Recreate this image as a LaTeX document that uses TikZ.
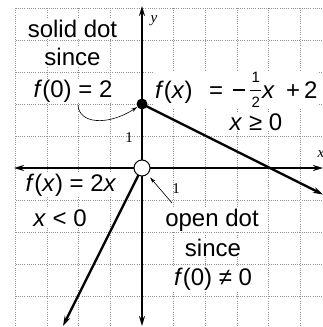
\documentclass[tikz,border=0pt]{standalone}
\usepackage{fontspec}
\setmainfont{Liberation Sans}
\newfontfamily\serifx{Liberation Serif}
\usetikzlibrary{arrows.meta}
\newcommand{\halfsmall}{{\fontsize{15}{15}\selectfont\makebox[11pt]{\rlap{\raisebox{15.5pt}{\makebox[11pt]{1}}}\rlap{\raisebox{7.6pt}{\rule{11pt}{0.8pt}}}\raisebox{-9.5pt}{\makebox[11pt]{2}}}}}
\newcommand{\minusbar}{\makebox[19pt][l]{\hspace{2pt}\raisebox{7.3pt}{\rule{12pt}{1.3pt}}}}
\begin{document}
\begin{tikzpicture}[x=1pt,y=-1pt,
  gridline/.style={gray!85, line width=0.6pt, dash pattern=on 1pt off 1.2pt},
  axis/.style={line width=2.4pt, {Stealth[length=10pt,width=6pt]}-{Stealth[length=10pt,width=6pt]}},
  graphline/.style={line width=2.4pt},
  tipline/.style={graphline, -{Stealth[length=10pt,width=6pt]}},
  lbl/.style={fill=white, inner sep=1pt, anchor=base, font=\fontsize{24}{28}\selectfont},
  axlbl/.style={inner sep=0pt, font=\serifx\fontsize{15}{18}\selectfont},
  pointer/.style={line width=0.6pt, -{Stealth[length=6pt,width=3.5pt]}}
]
\useasboundingbox (0,0) rectangle (323,327);
\fill[white] (0,0) rectangle (323,327);
% grid
\foreach \gx in {15.5,47,78.5,110,173.5,205,237,268,300} \draw[gridline] (\gx,8) -- (\gx,327);
\foreach \gy in {8,40,72,104,136,200,232,264,296} \draw[gridline] (15.5,\gy) -- (323,\gy);
% key points
\coordinate (O) at (142,168);
\coordinate (P) at (142,104);
\coordinate (xl) at (14,168);
\coordinate (xr) at (323,168);
\coordinate (yt) at (142,6);
\coordinate (yb) at (142,326);
\coordinate (r1) at (323,194.5);
\coordinate (r2) at (63,326);
% labels
\node[lbl] (sd1) at (72.5,37) {solid dot};
\node[lbl] (sd2) at (72.5,65) {since};
\node[lbl] (sd3) at (73,97) {\textit{f}(0) = 2};
\node[lbl, anchor=base west] (fa) at (154,98) {\makebox[54pt][l]{\textit{f}(\textit{x})}\makebox[22pt][l]{=}\minusbar\halfsmall\hspace{1pt}\makebox[24pt][l]{\textit{x}}\makebox[18pt][l]{+}2};
\node[lbl] (fb) at (256,130) {\textit{x} ≥ 0};
\node[lbl] (ga) at (71,191) {\textit{f}(\textit{x}) = 2\textit{x}};
\node[lbl] (gb) at (60,226) {\textit{x} < 0};
\node[lbl] (od1) at (212,226) {open dot};
\node[lbl] (od2) at (213,256) {since};
\node[lbl] (od3) at (213,285) {\textit{f}(0) ≠ 0};
\node[axlbl] (ylab) at (154,21) {\textit{y}};
\node[axlbl] (xlab) at (321,154) {\textit{x}};
\node[axlbl] (one1) at (129,138) {1};
\node[axlbl] (one2) at (176,189) {1};
% axes
\draw[axis] (xl) -- (xr);
\draw[axis] (yb) -- (yt);
% graph lines
\draw[tipline] (P) -- (r1);
\draw[tipline] (O) -- (r2);
% dots
\node[circle, fill=black, minimum size=11pt, inner sep=0pt] (sdot) at (P) {};
\node[circle, draw, fill=white, line width=1pt, minimum size=16pt, inner sep=0pt] (odot) at (O) {};
% pointer arrows
\coordinate (pa) at (78,105);
\coordinate (pb) at (172,203);
\draw[pointer] (pa) .. controls (79,124) and (108,126) .. (sdot);
\draw[pointer, shorten >=4pt] (pb) -- (odot);
\end{tikzpicture}
\end{document}
